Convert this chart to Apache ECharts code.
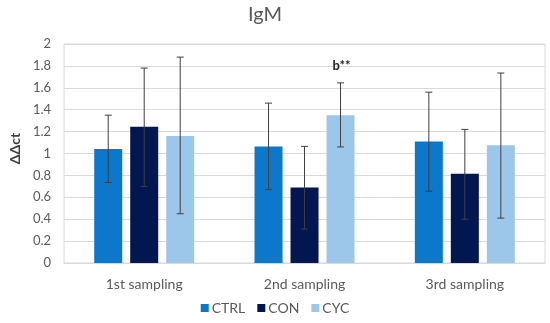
<!DOCTYPE html>
<html><head><meta charset="utf-8">
<script src="https://cdn.jsdelivr.net/npm/echarts@6/dist/echarts.min.js"></script>
<style>html,body{margin:0;padding:0;background:#fff}#c{width:550px;height:323px}</style>
</head><body><div id="c"></div>
<script>
const categories = ['1st sampling', '2nd sampling', '3rd sampling'];
const seriesNames = ['CTRL', 'CON', 'CYC'];
const ctrlValues = [1.04, 1.065, 1.11];
const conValues = [1.245, 0.69, 0.815];
const cycValues = [1.16, 1.35, 1.075];
const ctrlErrLow = [0.735, 0.67, 0.655];
const ctrlErrHigh = [1.35, 1.46, 1.56];
const conErrLow = [0.70, 0.31, 0.40];
const conErrHigh = [1.78, 1.065, 1.22];
const cycErrLow = [0.45, 1.06, 0.41];
const cycErrHigh = [1.88, 1.645, 1.735];
const cycNotes = ['', 'b**', ''];
const yTicks = ['0','0.2','0.4','0.6','0.8','1','1.2','1.4','1.6','1.8','2'];

const colors = ['#0B78CB', '#02164F', '#9DC7EA'];
const values = [ctrlValues, conValues, cycValues];
const errs = [[ctrlErrLow, ctrlErrHigh], [conErrLow, conErrHigh], [cycErrLow, cycErrHigh]];
const notes = [['','',''], ['','',''], cycNotes];
const BW = 28, GAP = 8;
const font = 'Lato, "Open Sans", sans-serif';

const series = [];
seriesNames.forEach((n, i) => {
  series.push({
    name: n, type: 'bar', data: values[i], barWidth: BW, barGap: (GAP / BW * 100) + '%',
    itemStyle: { color: colors[i] }
  });
});
seriesNames.forEach((n, i) => {
  const data = categories.map((c, j) => [j, errs[i][0][j], errs[i][1][j]]);
  series.push({
    type: 'custom', name: n + ' err', data: data, z: 5, silent: true,
    renderItem: function (params, api) {
      const x = api.value(0);
      const lo = api.coord([x, api.value(1)]);
      const hi = api.coord([x, api.value(2)]);
      const off = (i - 1) * (BW + GAP);
      const cx = lo[0] + off;
      const cap = 3.5;
      const st = { stroke: '#3f3f3f', lineWidth: 1 };
      const children = [
        { type: 'line', shape: { x1: cx, y1: lo[1], x2: cx, y2: hi[1] }, style: st },
        { type: 'line', shape: { x1: cx - cap, y1: lo[1], x2: cx + cap, y2: lo[1] }, style: st },
        { type: 'line', shape: { x1: cx - cap, y1: hi[1], x2: cx + cap, y2: hi[1] }, style: st }
      ];
      const note = notes[i][params.dataIndex];
      if (note) {
        children.push({ type: 'text', style: { text: note, x: cx + 1, y: hi[1] - 17, align: 'center', verticalAlign: 'middle', fill: '#222', font: 'bold 13px ' + font } });
      }
      return { type: 'group', children: children };
    }
  });
});

const chart = echarts.init(document.getElementById('c'));
chart.setOption({
  animation: false,
  title: { text: 'IgM', left: 243, top: 0, textStyle: { fontFamily: font, fontSize: 20, fontWeight: 'normal', color: '#595959' } },
  legend: {
    data: seriesNames, bottom: 3, left: 'center', icon: 'rect', itemWidth: 8, itemHeight: 8, itemGap: 12,
    textStyle: { fontFamily: font, fontSize: 14, color: '#595959', padding: [0, 0, 0, -2] }
  },
  grid: { left: 58, right: 5, top: 44, bottom: 60, show: true, borderColor: '#D9D9D9', borderWidth: 1 },
  xAxis: {
    type: 'category', data: categories,
    axisLine: { lineStyle: { color: '#D9D9D9' } }, axisTick: { show: false },
    axisLabel: { fontFamily: font, fontSize: 14, color: '#595959', margin: 14 }
  },
  yAxis: {
    type: 'value', min: 0, max: 2, interval: 0.2,
    name: 'ΔΔct', nameLocation: 'middle', nameGap: 36,
    nameTextStyle: { fontFamily: font, fontSize: 14, fontWeight: 'bold', color: '#404040', padding: [0, 0, 0, 10] },
    axisLabel: { fontFamily: font, fontSize: 13, color: '#595959', margin: 13, formatter: (v, idx) => yTicks[idx] },
    splitLine: { lineStyle: { color: '#D9D9D9' } }, axisLine: { show: false }, axisTick: { show: false }
  },
  series: series
});
</script></body></html>
